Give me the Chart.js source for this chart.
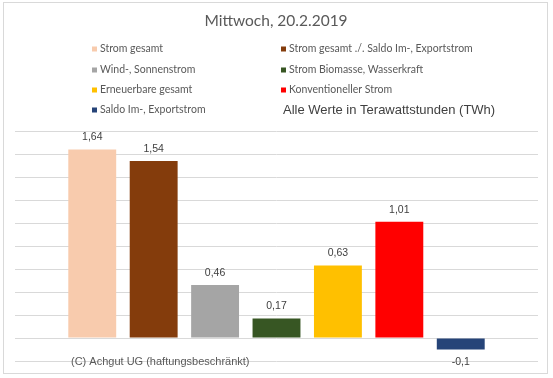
<!DOCTYPE html>
<html>
<head>
<meta charset="utf-8">
<script src="https://cdn.jsdelivr.net/npm/chart.js@4"></script>
<style>
  html, body { margin: 0; padding: 0; background: #ffffff; }
  #wrap { width: 553px; height: 378px; position: relative; }
</style>
</head>
<body>
<div id="wrap"><canvas id="c" width="553" height="378"></canvas></div>
<script>
const chartTitle = 'Mittwoch, 20.2.2019';
const seriesNames = [
  'Strom gesamt',
  'Strom gesamt ./. Saldo Im-, Exportstrom',
  'Wind-, Sonnenstrom',
  'Strom Biomasse, Wasserkraft',
  'Erneuerbare gesamt',
  'Konventioneller Strom',
  'Saldo Im-, Exportstrom'
];
const seriesValues = [1.64, 1.54, 0.46, 0.17, 0.63, 1.01, -0.1];
const seriesColors = ['#f8cbad', '#843c0c', '#a5a5a5', '#375623', '#ffc000', '#ff0000', '#264478'];
const unitNote = 'Alle Werte in Terawattstunden (TWh)';
const footerNote = '(C) Achgut UG (haftungsbeschränkt)';
const yMin = -0.2, yMax = 1.8, yStep = 0.2;

const datasets = seriesNames.map((name, i) => ({
  label: name,
  data: [seriesValues[i]],
  backgroundColor: seriesColors[i],
  borderWidth: 0,
  categoryPercentage: 0.822,
  barPercentage: 0.78
}));

const fmt = v => String(v).replace('.', ',');

const decorPlugin = {
  id: 'decor',
  beforeDraw(chart) {
    const ctx = chart.ctx;
    ctx.save();
    ctx.fillStyle = '#ffffff';
    ctx.fillRect(0, 0, chart.width, chart.height);
    ctx.strokeStyle = '#d9d9d9';
    ctx.lineWidth = 1;
    ctx.strokeRect(3.5, 2.5, 544, 371);
    ctx.restore();
  },
  afterDraw(chart) {
    const ctx = chart.ctx;
    ctx.save();
    // title
    ctx.fillStyle = '#595959';
    ctx.font = '15.5px Lato';
    ctx.textAlign = 'center';
    ctx.textBaseline = 'middle';
    ctx.fillText(chartTitle, 276, 21);
    // legend (two columns)
    const colX = [92, 281];
    const rowY = [49, 70, 90, 110];
    ctx.textAlign = 'left';
    ctx.font = '10.5px Lato';
    chart.data.datasets.forEach((ds, i) => {
      const col = i % 2, row = Math.floor(i / 2);
      const x = colX[col], y = rowY[row];
      ctx.fillStyle = ds.backgroundColor;
      ctx.fillRect(x, y - 2.5, 5, 5);
      ctx.fillStyle = '#595959';
      ctx.fillText(ds.label, x + 8, y);
    });
    ctx.fillStyle = '#404040';
    ctx.font = '13px "Liberation Sans"';
    ctx.fillText(unitNote, 283, 110);
    // data labels
    ctx.font = '10.5px "Liberation Sans"';
    ctx.textAlign = 'center';
    ctx.fillStyle = '#404040';
    chart.data.datasets.forEach((ds, i) => {
      const el = chart.getDatasetMeta(i).data[0];
      const v = ds.data[0];
      const y = v >= 0 ? el.y - 12 : el.y + 13;
      ctx.fillText(fmt(v), el.x, y);
    });
    // footer
    ctx.fillStyle = '#595959';
    ctx.font = '11px "Liberation Sans"';
    ctx.textAlign = 'left';
    ctx.fillText(footerNote, 71, 362);
    ctx.restore();
  }
};

new Chart(document.getElementById('c'), {
  type: 'bar',
  data: { labels: [''], datasets },
  options: {
    responsive: false,
    animation: false,
    events: [],
    layout: { padding: { left: 15, right: 15, top: 131, bottom: 17 } },
    plugins: { legend: { display: false }, title: { display: false }, tooltip: { enabled: false } },
    scales: {
      x: { display: false },
      y: {
        min: yMin, max: yMax,
        ticks: { display: false, stepSize: yStep },
        border: { display: false },
        grid: { color: '#d9d9d9', lineWidth: 1, drawTicks: false }
      }
    }
  },
  plugins: [decorPlugin]
});
</script>
</body>
</html>
